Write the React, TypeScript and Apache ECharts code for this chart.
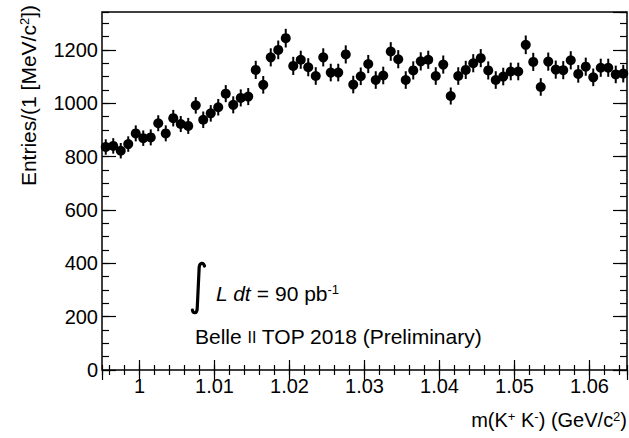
import React, { useEffect, useRef } from "react";
import * as echarts from "echarts";

const massBins = [
  0.9955, 0.9965, 0.9975, 0.9985, 0.9995, 1.0005, 1.0015, 1.0025, 1.0035, 1.0045,
  1.0055, 1.0065, 1.0075, 1.0085, 1.0095, 1.0105, 1.0115, 1.0125, 1.0135, 1.0145,
  1.0155, 1.0165, 1.0175, 1.0185, 1.0195, 1.0205, 1.0215, 1.0225, 1.0235, 1.0245,
  1.0255, 1.0265, 1.0275, 1.0285, 1.0295, 1.0305, 1.0315, 1.0325, 1.0335, 1.0345,
  1.0355, 1.0365, 1.0375, 1.0385, 1.0395, 1.0405, 1.0415, 1.0425, 1.0435, 1.0445,
  1.0455, 1.0465, 1.0475, 1.0485, 1.0495, 1.0505, 1.0515, 1.0525, 1.0535, 1.0545,
  1.0555, 1.0565, 1.0575, 1.0585, 1.0595, 1.0605, 1.0615, 1.0625, 1.0635, 1.0645,
];

const entries = [
  836, 840, 822, 847, 887, 869, 872, 925, 887, 944,
  922, 915, 992, 938, 962, 985, 1036, 994, 1020, 1025,
  1125, 1069, 1172, 1200, 1244, 1140, 1163, 1135, 1102, 1172,
  1115, 1115, 1183, 1070, 1101, 1147, 1087, 1104, 1194, 1165,
  1087, 1123, 1157, 1163, 1102, 1145, 1027, 1102, 1125, 1150,
  1169, 1123, 1087, 1100, 1119, 1119, 1219, 1155, 1061, 1156,
  1126, 1124, 1161, 1110, 1137, 1097, 1133, 1133, 1108, 1111,
];

const errors = [
  29, 29, 29, 29, 30, 29, 30, 30, 30, 31,
  30, 30, 31, 31, 31, 31, 32, 32, 32, 32,
  34, 33, 34, 35, 35, 34, 34, 34, 33, 34,
  33, 33, 34, 33, 33, 34, 33, 33, 35, 34,
  33, 34, 34, 34, 33, 34, 32, 33, 34, 34,
  34, 34, 33, 33, 33, 33, 35, 34, 33, 34,
  34, 34, 34, 33, 34, 33, 34, 34, 33, 33,
];

const X_MIN = 0.995;
const X_MAX = 1.065;
const Y_MIN = 0;
const Y_MAX = 1342;

const FONT = "'Liberation Sans', Arial, Helvetica, sans-serif";

const INTEGRAL_D = "M12.5,3 C11.5,-0.5 7.8,-0.8 7.2,4 L5.2,46 C4.7,50.8 1,50.8 0.4,47";

let registered = false;
function ensureShapes() {
  if (registered) return;
  echarts.graphic.registerShape("integral", echarts.graphic.extendPath(INTEGRAL_D, {}));
  registered = true;
}

export default function App() {
  const ref = useRef<HTMLDivElement>(null);

  useEffect(() => {
    if (!ref.current) return;
    ensureShapes();
    const chart = echarts.init(ref.current, null, { renderer: "svg" });

    const tickStyle = { color: "#000", width: 1.2 };
    const xAxisBase = {
      type: "value",
      min: X_MIN,
      max: X_MAX,
      axisLine: { show: false },
      splitLine: { show: false },
    };
    const yAxisBase = {
      type: "value",
      min: Y_MIN,
      max: Y_MAX,
      axisLine: { show: false },
      splitLine: { show: false },
    };

    const option = {
      animation: false,
      backgroundColor: "#fff",
      grid: {
        left: 102,
        right: 2,
        top: 12,
        bottom: 68,
        show: true,
        borderColor: "#000",
        borderWidth: 1.5,
        backgroundColor: "transparent",
      },
      xAxis: [
        {
          ...xAxisBase,
          position: "bottom",
          splitNumber: 7,
          axisTick: { inside: true, length: 10, lineStyle: tickStyle },
          axisLabel: {
            showMinLabel: false,
            showMaxLabel: false,
            color: "#000",
            fontSize: 20,
            fontFamily: FONT,
            margin: 6,
            formatter: (v: number) => String(Math.round(v * 1000) / 1000),
          },
        },
        {
          ...xAxisBase,
          position: "bottom",
          splitNumber: 35,
          axisTick: { inside: true, length: 5, lineStyle: tickStyle },
          axisLabel: { show: false },
        },
        {
          ...xAxisBase,
          position: "top",
          splitNumber: 7,
          axisTick: { inside: true, length: 10, lineStyle: tickStyle },
          axisLabel: { show: false },
        },
        {
          ...xAxisBase,
          position: "top",
          splitNumber: 35,
          axisTick: { inside: true, length: 5, lineStyle: tickStyle },
          axisLabel: { show: false },
        },
      ],
      yAxis: [
        {
          ...yAxisBase,
          position: "left",
          interval: 200,
          axisTick: { inside: true, length: 14, lineStyle: tickStyle },
          axisLabel: {
            showMaxLabel: false,
            color: "#000",
            fontSize: 20,
            fontFamily: FONT,
            margin: 4,
            formatter: (v: number) => String(v),
          },
        },
        {
          ...yAxisBase,
          position: "left",
          interval: 50,
          axisTick: { inside: true, length: 7, lineStyle: tickStyle },
          axisLabel: { show: false },
        },
        {
          ...yAxisBase,
          position: "right",
          interval: 200,
          axisTick: { inside: true, length: 14, lineStyle: tickStyle },
          axisLabel: { show: false },
        },
        {
          ...yAxisBase,
          position: "right",
          interval: 50,
          axisTick: { inside: true, length: 7, lineStyle: tickStyle },
          axisLabel: { show: false },
        },
      ],
      series: [
        {
          type: "custom",
          xAxisIndex: 0,
          yAxisIndex: 0,
          data: massBins.map((m, i) => [m, entries[i] - errors[i], entries[i] + errors[i]]),
          encode: { x: 0, y: [1, 2] },
          renderItem: (_params: any, api: any) => {
            const x = api.value(0);
            const p1 = api.coord([x, api.value(1)]);
            const p2 = api.coord([x, api.value(2)]);
            return {
              type: "line",
              shape: { x1: p1[0], y1: p1[1], x2: p2[0], y2: p2[1] },
              style: { stroke: "#000", lineWidth: 2 },
            };
          },
          z: 3,
        },
        {
          type: "scatter",
          xAxisIndex: 0,
          yAxisIndex: 0,
          data: massBins.map((m, i) => [m, entries[i]]),
          symbol: "circle",
          symbolSize: 10,
          itemStyle: { color: "#000", opacity: 1 },
          z: 4,
        },
      ],
      graphic: [
        {
          type: "text",
          x: 28,
          y: 5,
          rotation: Math.PI / 2,
          style: {
            text: "{a|Entries/(1 [MeV/c}{s|2}{a|])}",
            align: "right",
            verticalAlign: "middle",
            fill: "#000",
            fontFamily: FONT,
            fontSize: 21,
            rich: {
              a: { fontSize: 21, fontFamily: FONT, fill: "#000" },
              s: { fontSize: 13, fontFamily: FONT, fill: "#000", verticalAlign: "top" },
            },
          },
        },
        {
          type: "text",
          x: 627,
          y: 420,
          style: {
            text: "{a|m(K}{s|+}{a| K}{s|-}{a|) (GeV/c}{s|2}{a|)}",
            align: "right",
            verticalAlign: "middle",
            fill: "#000",
            fontFamily: FONT,
            fontSize: 20,
            rich: {
              a: { fontSize: 20, fontFamily: FONT, fill: "#000" },
              s: { fontSize: 13, fontFamily: FONT, fill: "#000", verticalAlign: "top" },
            },
          },
        },
        {
          type: "integral",
          x: 192,
          y: 263,
          style: { stroke: "#000", fill: null, lineWidth: 3.2, lineCap: "round" },
        },
        {
          type: "text",
          x: 216,
          y: 293,
          style: {
            text: "{i|L dt}{a| = 90 pb}{s|-1}",
            align: "left",
            verticalAlign: "middle",
            fill: "#000",
            fontFamily: FONT,
            fontSize: 21,
            rich: {
              i: { fontSize: 21, fontFamily: FONT, fontStyle: "italic", fill: "#000" },
              a: { fontSize: 21, fontFamily: FONT, fill: "#000" },
              s: { fontSize: 13, fontFamily: FONT, fill: "#000", verticalAlign: "top" },
            },
          },
        },
        {
          type: "text",
          x: 195,
          y: 336,
          style: {
            text: "{a|Belle }{c|II}{a| TOP 2018 (Preliminary)}",
            align: "left",
            verticalAlign: "middle",
            fill: "#000",
            fontFamily: FONT,
            fontSize: 21,
            rich: {
              a: { fontSize: 21, fontFamily: FONT, fill: "#000" },
              c: {
                fontSize: 16,
                fontFamily: FONT,
                fill: "#000",
                verticalAlign: "middle",
                padding: [3, 0, 0, 0],
              },
            },
          },
        },
      ],
    };

    chart.setOption(option as any);
    return () => {
      chart.dispose();
    };
  }, []);

  return (
    <div
      ref={ref}
      style={{ position: "absolute", left: 0, top: 0, width: 629, height: 438 }}
    />
  );
}
